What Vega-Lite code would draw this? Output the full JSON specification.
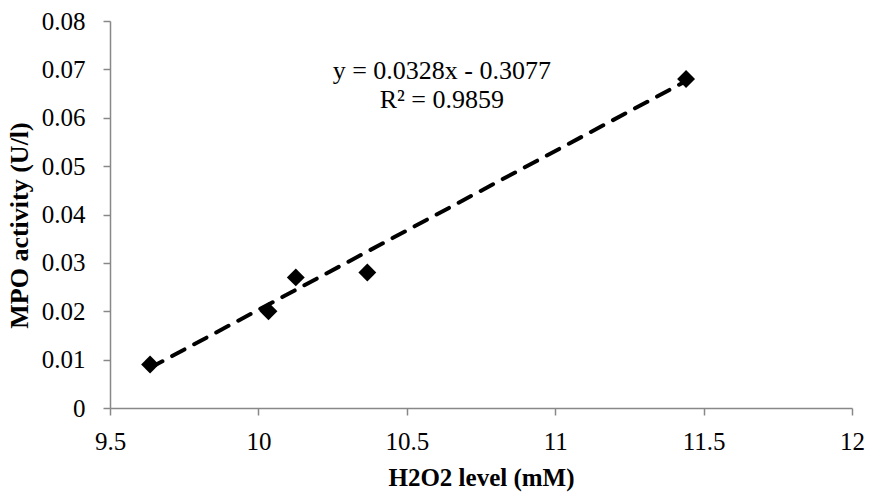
{
  "$schema": "https://vega.github.io/schema/vega-lite/v6.json",
  "width": 742,
  "height": 387,
  "autosize": {"type": "none"},
  "padding": {"left": 110, "top": 21, "right": 17, "bottom": 86},
  "background": "white",
  "config": {
    "view": {"stroke": null},
    "font": "'Liberation Serif', serif",
    "axis": {
      "grid": false,
      "domainColor": "#888888",
      "domainWidth": 1.5,
      "tickColor": "#888888",
      "tickWidth": 1.5,
      "tickSize": 7,
      "labelFont": "'Liberation Serif', serif",
      "labelFontSize": 25,
      "labelColor": "black",
      "labelFlush": false,
      "labelOverlap": false,
      "labelBound": false,
      "titleFont": "'Liberation Serif', serif",
      "titleFontSize": 25,
      "titleFontWeight": "bold",
      "titleColor": "black"
    }
  },
  "layer": [
    {
      "data": {"values": [{"h2o2": 9.635, "mpo": 0.0083}, {"h2o2": 11.441, "mpo": 0.0676}]},
      "mark": {"type": "line", "color": "black", "strokeWidth": 4, "strokeDash": [14, 11], "strokeCap": "round"},
      "encoding": {
        "x": {"field": "h2o2", "type": "quantitative", "scale": {"domain": [9.5, 12], "nice": false, "zero": false},
              "axis": {"values": [9.5, 10, 10.5, 11, 11.5, 12], "format": ".1~f", "title": "H2O2 level (mM)", "labelPadding": 14, "titlePadding": 11}},
        "y": {"field": "mpo", "type": "quantitative", "scale": {"domain": [0, 0.08], "nice": false},
              "axis": {"values": [0, 0.01, 0.02, 0.03, 0.04, 0.05, 0.06, 0.07, 0.08], "format": ".2~f", "title": "MPO activity (U/l)", "titleFontSize": 26, "titleY": 204, "labelPadding": 18, "titlePadding": 9}}
      }
    },
    {
      "data": {"values": [
        {"h2o2": 9.635, "mpo": 0.009},
        {"h2o2": 10.034, "mpo": 0.020},
        {"h2o2": 10.126, "mpo": 0.027},
        {"h2o2": 10.367, "mpo": 0.028},
        {"h2o2": 11.441, "mpo": 0.068}
      ]},
      "mark": {"type": "point", "shape": "diamond", "filled": true, "size": 320, "color": "black", "opacity": 1},
      "encoding": {
        "x": {"field": "h2o2", "type": "quantitative"},
        "y": {"field": "mpo", "type": "quantitative"}
      }
    },
    {
      "data": {"values": [{"label": ["y = 0.0328x - 0.3077", "R² = 0.9859"], "h2o2": 10.618, "mpo": 0.0697}]},
      "mark": {"type": "text", "font": "'Liberation Serif', serif", "fontSize": 26, "lineHeight": 29, "align": "center", "baseline": "middle", "color": "black"},
      "encoding": {
        "x": {"field": "h2o2", "type": "quantitative"},
        "y": {"field": "mpo", "type": "quantitative"},
        "text": {"field": "label"}
      }
    }
  ]
}
